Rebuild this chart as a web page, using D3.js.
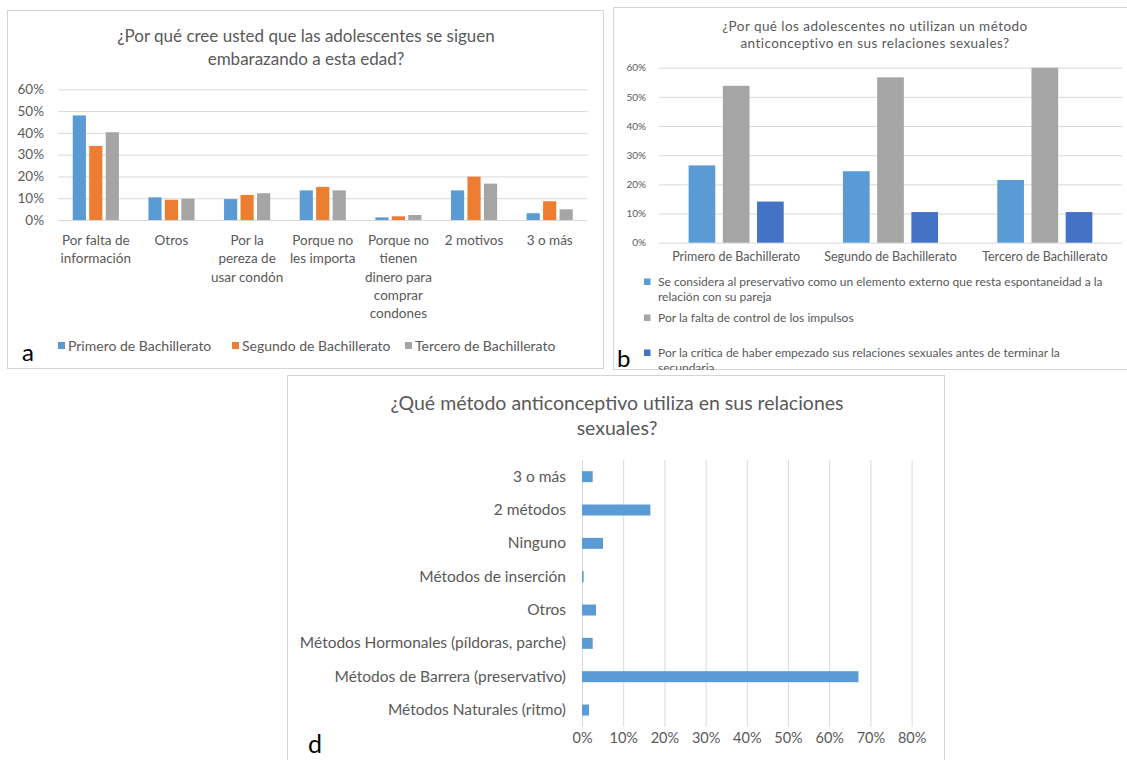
<!DOCTYPE html>
<html>
<head>
<meta charset="utf-8">
<script src="https://cdn.jsdelivr.net/npm/d3@7"></script>
<style>
  html, body { margin: 0; padding: 0; background: #fff; }
  svg { display: block; font-family: Lato, "Open Sans", sans-serif; }
</style>
</head>
<body>
<svg id="fig" width="1127" height="760"></svg>
<script>
// ---- Panel a: why adolescents keep getting pregnant (by school year) ----
const razonesEmbarazo = [
  "Por falta de\ninformación",
  "Otros",
  "Por la\npereza de\nusar condón",
  "Porque no\nles importa",
  "Porque no\ntienen\ndinero para\ncomprar\ncondones",
  "2 motivos",
  "3 o más"
];
const cursosA = ["Primero de Bachillerato", "Segundo de Bachillerato", "Tercero de Bachillerato"];
const primeroA = [48.0, 10.4, 9.6, 13.6, 1.2, 13.6, 3.1];
const segundoA = [34.0, 9.3, 11.5, 15.2, 1.7, 19.9, 8.6];
const terceroA = [40.3, 9.8, 12.3, 13.6, 2.3, 16.7, 4.9];
const ticksA = [0, 10, 20, 30, 40, 50, 60];

// ---- Panel b: why they do not use contraception ----
const cursosB = ["Primero de Bachillerato", "Segundo de Bachillerato", "Tercero de Bachillerato"];
const motivosB = [
  "Se considera al preservativo como un elemento externo que resta espontaneidad a la\nrelación con su pareja",
  "Por la falta de control de los impulsos",
  "Por la crítica de haber empezado sus relaciones sexuales antes de terminar la\nsecundaria"
];
const espontaneidadB = [26.5, 24.5, 21.5];
const impulsosB = [53.8, 56.7, 60.0];
const criticaB = [14.1, 10.5, 10.5];
const ticksB = [0, 10, 20, 30, 40, 50, 60];

// ---- Panel d: contraceptive method used ----
const metodosD = [
  "3 o más",
  "2 métodos",
  "Ninguno",
  "Métodos de inserción",
  "Otros",
  "Métodos Hormonales (píldoras, parche)",
  "Métodos de Barrera (preservativo)",
  "Métodos Naturales (ritmo)"
];
const usoD = [2.6, 16.6, 5.1, 0.4, 3.4, 2.6, 67.1, 1.7];
const ticksD = [0, 10, 20, 30, 40, 50, 60, 70, 80];

const TEXT = "#595959";
const GRID = "#d9d9d9";
const BORDER = "#d4d4d4";
const pct = d => d + "%";

const svg = d3.select("#fig");
const defs = svg.append("defs");

function panel(id, x0, y0, x1, y1) {
  defs.append("clipPath").attr("id", id)
    .append("rect").attr("x", x0).attr("y", y0).attr("width", x1 - x0).attr("height", y1 - y0);
  const g = svg.append("g").attr("clip-path", `url(#${id})`);
  g.append("rect").attr("x", x0).attr("y", y0).attr("width", x1 - x0).attr("height", y1 - y0)
    .attr("fill", "#fff").attr("stroke", BORDER).attr("stroke-width", 2);
  return g;
}

function multiline(sel, text, x, y, lh, anchor) {
  const t = sel.append("text").attr("text-anchor", anchor || "middle");
  text.split("\n").forEach((ln, i) => {
    t.append("tspan").attr("x", x).attr("y", y + i * lh).text(ln);
  });
  return t;
}

// ================= Panel a =================
{
  const g = panel("clipA", 7, 10, 604, 369);
  multiline(g, "¿Por qué cree usted que las adolescentes se siguen\nembarazando a esta edad?", 306, 42, 22.5)
    .attr("font-size", 17).attr("fill", TEXT);

  const series = [primeroA, segundoA, terceroA];
  const colors = ["#5B9BD5", "#ED7D31", "#A5A5A5"];

  const x0 = d3.scaleBand().domain(razonesEmbarazo).range([58, 587.5]).paddingInner(0.39).paddingOuter(0.195);
  const x1 = d3.scaleBand().domain(d3.range(3)).range([0, x0.bandwidth()]).paddingInner(0.2);
  const y = d3.scaleLinear().domain([0, 60]).range([220, 89.3]);

  const yAxis = g.append("g").attr("transform", "translate(58,0)")
    .call(d3.axisLeft(y).tickValues(ticksA).tickFormat(pct).tickSize(-529.5).tickPadding(14));
  yAxis.select(".domain").remove();
  yAxis.selectAll("line").attr("stroke", GRID);
  yAxis.selectAll("text").attr("fill", TEXT).attr("font-size", 13.5).attr("font-family", "Lato, sans-serif");

  series.forEach((vals, si) => {
    g.append("g").selectAll("rect").data(vals).join("rect")
      .attr("x", (d, i) => x0(razonesEmbarazo[i]) + x1(si))
      .attr("y", d => y(d))
      .attr("width", x1.bandwidth())
      .attr("height", d => y(0) - y(d))
      .attr("fill", colors[si]);
  });

  razonesEmbarazo.forEach(c => {
    multiline(g, c, x0(c) + x0.bandwidth() / 2, 245, 18.3)
      .attr("font-size", 13.5).attr("fill", TEXT);
  });

  const legX = [58, 232, 405];
  cursosA.forEach((s, i) => {
    g.append("rect").attr("x", legX[i]).attr("y", 342).attr("width", 7).attr("height", 7).attr("fill", colors[i]);
    g.append("text").attr("x", legX[i] + 10).attr("y", 350.5).attr("font-size", 14).attr("fill", TEXT).text(s);
  });

  g.append("text").attr("x", 22).attr("y", 361).attr("font-size", 24).attr("fill", "#000").text("a");
}

// ================= Panel b =================
{
  const g = panel("clipB", 613, 7, 1140, 370);
  multiline(g, "¿Por qué los adolescentes no utilizan un método\nanticonceptivo en sus relaciones sexuales?", 875, 31, 16.5)
    .attr("font-size", 13.5).attr("letter-spacing", 0.45).attr("fill", TEXT);

  const series = [espontaneidadB, impulsosB, criticaB];
  const colors = ["#5B9BD5", "#A5A5A5", "#4472C4"];

  const x0 = d3.scaleBand().domain(cursosB).range([659, 1122]).paddingInner(0.384).paddingOuter(0.192);
  const x1 = d3.scaleBand().domain(d3.range(3)).range([0, x0.bandwidth()]).paddingInner(0.22);
  const y = d3.scaleLinear().domain([0, 60]).range([242.7, 67.7]);

  const yAxis = g.append("g").attr("transform", "translate(659,0)")
    .call(d3.axisLeft(y).tickValues(ticksB).tickFormat(pct).tickSize(-463).tickPadding(13));
  yAxis.select(".domain").remove();
  yAxis.selectAll("line").attr("stroke", GRID);
  yAxis.selectAll("text").attr("fill", TEXT).attr("font-size", 10).attr("font-family", "Lato, sans-serif");

  series.forEach((vals, si) => {
    g.append("g").selectAll("rect").data(vals).join("rect")
      .attr("x", (d, i) => x0(cursosB[i]) + x1(si))
      .attr("y", d => y(d))
      .attr("width", x1.bandwidth())
      .attr("height", d => y(0) - y(d))
      .attr("fill", colors[si]);
  });

  cursosB.forEach(c => {
    g.append("text").attr("x", x0(c) + x0.bandwidth() / 2).attr("y", 261)
      .attr("text-anchor", "middle").attr("font-size", 12.5).attr("fill", TEXT).text(c);
  });

  const legY = [286, 322, 357];
  motivosB.forEach((m, i) => {
    g.append("rect").attr("x", 644).attr("y", legY[i] - 7.5).attr("width", 6.5).attr("height", 6.5).attr("fill", colors[i]);
    multiline(g, m, 658, legY[i], 14.5, "start").attr("font-size", 12).attr("fill", TEXT);
  });

  g.append("text").attr("x", 617).attr("y", 367).attr("font-size", 24).attr("fill", "#000").text("b");
}

// ================= Panel d =================
{
  const g = panel("clipD", 287, 375, 945, 770);
  multiline(g, "¿Qué método anticonceptivo utiliza en sus relaciones\nsexuales?", 617, 410, 25)
    .attr("font-size", 19.5).attr("fill", TEXT);

  const x = d3.scaleLinear().domain([0, 80]).range([582, 911.6]);
  const y = d3.scaleBand().domain(metodosD).range([460, 726.7]).paddingInner(0.67).paddingOuter(0.335);

  const xAxis = g.append("g").attr("transform", "translate(0,460)")
    .call(d3.axisTop(x).tickValues(ticksD).tickFormat(pct).tickSize(-266.7).tickPadding(-283));
  xAxis.select(".domain").remove();
  xAxis.selectAll("line").attr("stroke", GRID);
  xAxis.selectAll("text").attr("fill", TEXT).attr("font-size", 14.5).attr("font-family", "Lato, sans-serif");

  g.append("g").selectAll("rect").data(usoD).join("rect")
    .attr("x", x(0))
    .attr("y", (d, i) => y(metodosD[i]))
    .attr("width", d => x(d) - x(0))
    .attr("height", y.bandwidth())
    .attr("fill", "#5B9BD5");

  metodosD.forEach(m => {
    g.append("text").attr("x", 566).attr("y", y(m) + y.bandwidth() / 2 + 5)
      .attr("text-anchor", "end").attr("font-size", 15.5).attr("fill", TEXT).text(m);
  });

  g.append("text").attr("x", 308).attr("y", 753).attr("font-size", 25).attr("fill", "#000").text("d");
}
</script>
</body>
</html>
